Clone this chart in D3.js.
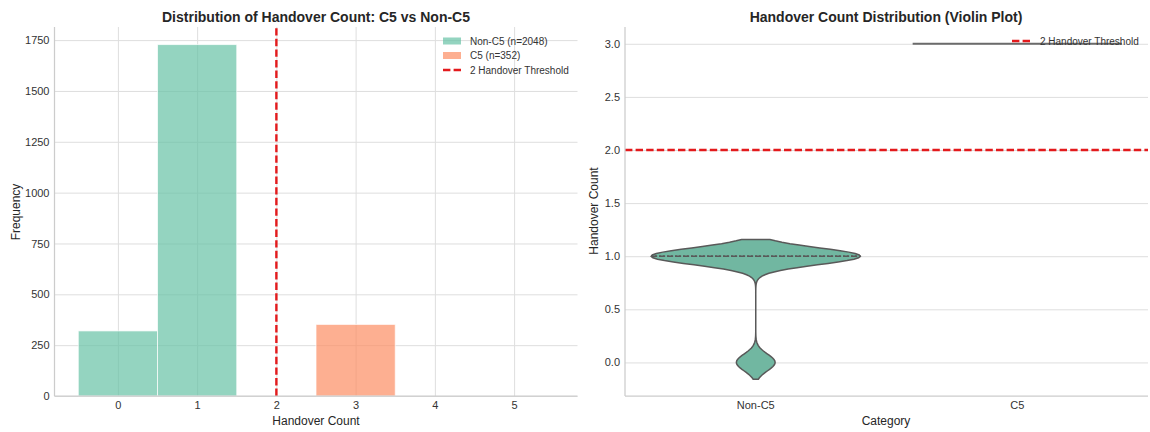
<!DOCTYPE html>
<html>
<head>
    <title>Handover Count: C5 vs Non-C5</title>
    <script src="https://d3js.org/d3.v7.min.js"></script>
    <style>
        body { margin: 0; background: #fff; }
        svg { font-family: "Liberation Sans", Arial, sans-serif; }
        .tick text { fill: #333; font-size: 11px; }
        .grid line { stroke: #dedede; stroke-width: 1; }
        .grid path { display: none; }
        .spine { stroke: #cccccc; stroke-width: 1.25; }
        .title { font-size: 14px; font-weight: bold; fill: #262626; }
        .label { font-size: 12px; fill: #262626; }
        .legend text { font-size: 10px; fill: #333; }
    </style>
</head>
<body>
    <svg id="chart" width="1150" height="432"></svg>

    <script>
        // data
        const handoverBins = [0, 1, 2, 3, 4, 5];
        const nonC5Counts = [320, 1728, 0, 0, 0, 0];
        const c5Counts = [0, 0, 0, 352, 0, 0];
        const categories = ['Non-C5', 'C5'];
        const threshold = 2;
        const freqTicks = [0, 250, 500, 750, 1000, 1250, 1500, 1750];
        const countTicks = [0, 0.5, 1, 1.5, 2, 2.5, 3];

        const nonC5Color = '#66c2a5';
        const c5Color = '#fc8d62';
        const violinFill = '#71b7a1';
        const redLine = '#e31a1c';

        const svg = d3.select('#chart');
        const plotTop = 27, plotBottom = 396;

        // ---------- left panel: histogram ----------
        const left = svg.append('g');
        const xHist = d3.scaleLinear().domain([-0.8, 5.8]).range([54.5, 577.5]);
        const yHist = d3.scaleLinear().domain([0, 1728 * 1.05]).range([plotBottom, plotTop]);

        left.append('g').attr('class', 'grid')
            .attr('transform', `translate(0,${plotBottom})`)
            .call(d3.axisBottom(xHist).tickValues(handoverBins).tickSize(-(plotBottom - plotTop)).tickFormat(''));
        left.append('g').attr('class', 'grid')
            .attr('transform', `translate(54.5,0)`)
            .call(d3.axisLeft(yHist).tickValues(freqTicks).tickSize(-(577.5 - 54.5)).tickFormat(''));

        // bars
        function drawBars(counts, color) {
            left.selectAll(null)
                .data(handoverBins.map((b, i) => ({ b: b, c: counts[i] })).filter(d => d.c > 0))
                .enter()
                .append('rect')
                .attr('x', d => xHist(d.b - 0.5))
                .attr('width', d => xHist(d.b + 0.5) - xHist(d.b - 0.5))
                .attr('y', d => yHist(d.c))
                .attr('height', d => yHist(0) - yHist(d.c))
                .attr('fill', color)
                .attr('fill-opacity', 0.7)
                .attr('stroke', '#ffffff')
                .attr('stroke-opacity', 0.7)
                .attr('stroke-width', 1);
        }
        drawBars(nonC5Counts, nonC5Color);
        drawBars(c5Counts, c5Color);

        // threshold
        left.append('line')
            .attr('x1', xHist(threshold)).attr('x2', xHist(threshold))
            .attr('y1', plotBottom).attr('y2', plotTop)
            .attr('stroke', redLine).attr('stroke-width', 2.4)
            .attr('stroke-dasharray', '7.4,3.2');

        // spines
        left.append('line').attr('class', 'spine')
            .attr('x1', 54.5).attr('x2', 54.5).attr('y1', plotTop).attr('y2', plotBottom);
        left.append('line').attr('class', 'spine')
            .attr('x1', 54.5).attr('x2', 577.5).attr('y1', plotBottom).attr('y2', plotBottom);

        // tick labels
        left.append('g')
            .attr('transform', `translate(0,${plotBottom})`)
            .call(d3.axisBottom(xHist).tickValues(handoverBins).tickSize(0).tickPadding(5).tickFormat(d3.format('d')))
            .call(g => g.select('.domain').remove());
        left.append('g')
            .attr('transform', `translate(54.5,0)`)
            .call(d3.axisLeft(yHist).tickValues(freqTicks).tickSize(0).tickPadding(5).tickFormat(d3.format('d')))
            .call(g => g.select('.domain').remove());

        left.append('text').attr('class', 'title')
            .attr('x', 316).attr('y', 22).attr('text-anchor', 'middle')
            .text('Distribution of Handover Count: C5 vs Non-C5');
        left.append('text').attr('class', 'label')
            .attr('x', 316).attr('y', 425).attr('text-anchor', 'middle')
            .text('Handover Count');
        left.append('text').attr('class', 'label')
            .attr('transform', 'translate(20,212) rotate(-90)')
            .attr('text-anchor', 'middle')
            .text('Frequency');

        // legend
        const leg = left.append('g').attr('class', 'legend');
        const legItems = [
            { label: 'Non-C5 (n=2048)', color: nonC5Color, type: 'patch' },
            { label: 'C5 (n=352)', color: c5Color, type: 'patch' },
            { label: '2 Handover Threshold', color: redLine, type: 'line' }
        ];
        legItems.forEach((d, i) => {
            const yy = 41 + i * 14.5;
            if (d.type === 'patch') {
                leg.append('rect').attr('x', 443).attr('y', yy - 3.5).attr('width', 18).attr('height', 7)
                    .attr('fill', d.color).attr('fill-opacity', 0.7);
            } else {
                leg.append('line').attr('x1', 443).attr('x2', 461).attr('y1', yy).attr('y2', yy)
                    .attr('stroke', d.color).attr('stroke-width', 2.4).attr('stroke-dasharray', '7.4,3.2');
            }
            leg.append('text').attr('x', 470).attr('y', yy + 3.5).text(d.label);
        });

        // ---------- right panel: violin ----------
        const right = svg.append('g');
        const xCat = d3.scaleBand().domain(categories).range([625, 1148]);
        const yViol = d3.scaleLinear().domain([-0.316, 3.158]).range([plotBottom, plotTop]);

        right.append('g').attr('class', 'grid')
            .attr('transform', `translate(625,0)`)
            .call(d3.axisLeft(yViol).tickValues(countTicks).tickSize(-(1148 - 625)).tickFormat(''));

        // expand counts to raw values and estimate density (gaussian kde, scott bandwidth, cut=2)
        function expand(counts) {
            const v = [];
            counts.forEach((c, i) => { for (let k = 0; k < c; k++) v.push(handoverBins[i]); });
            return v;
        }
        function kde(values) {
            const n = values.length;
            const sd = d3.deviation(values);
            const bw = sd * Math.pow(n, -0.2);
            const lo = d3.min(values) - 2 * bw, hi = d3.max(values) + 2 * bw;
            const pts = [];
            for (let i = 0; i < 100; i++) {
                const y = lo + (hi - lo) * i / 99;
                let s = 0;
                handoverBins.forEach((b, j) => {
                    const c = values.filter(v => v === b).length;
                    if (c) s += c * Math.exp(-0.5 * Math.pow((y - b) / bw, 2));
                });
                pts.push({ y: y, d: s / (n * bw * Math.sqrt(2 * Math.PI)) });
            }
            return pts;
        }

        const nonC5Values = expand(nonC5Counts);
        const c5Values = expand(c5Counts);
        const dens = kde(nonC5Values);
        const maxD = d3.max(dens, d => d.d);
        const halfW = xCat.step() * 0.4;
        const cx0 = xCat('Non-C5') + xCat.bandwidth() / 2;
        const wScale = d3.scaleLinear().domain([0, maxD]).range([0, halfW]);

        const area = d3.area()
            .y(d => yViol(d.y))
            .x0(d => cx0 - wScale(d.d))
            .x1(d => cx0 + wScale(d.d));
        right.append('path')
            .datum(dens)
            .attr('d', area)
            .attr('fill', violinFill)
            .attr('stroke', '#595959')
            .attr('stroke-width', 1.5);

        // quartile lines (all at the same value)
        const q = [0.25, 0.5, 0.75].map(p => d3.quantile(nonC5Values, p));
        q.forEach((v, i) => {
            const dv = d3.max(dens, d => (Math.abs(d.y - v) < 0.02 ? d.d : 0)) || maxD;
            right.append('line')
                .attr('x1', cx0 - wScale(dv)).attr('x2', cx0 + wScale(dv))
                .attr('y1', yViol(v)).attr('y2', yViol(v))
                .attr('stroke', '#595959').attr('stroke-width', 1.5)
                .attr('stroke-dasharray', i === 1 ? '6,2' : '1.5,2.5');
        });

        // C5 has a single value: drawn as a line
        const cx1 = xCat('C5') + xCat.bandwidth() / 2;
        right.append('line')
            .attr('x1', cx1 - halfW).attr('x2', cx1 + halfW)
            .attr('y1', yViol(c5Values[0])).attr('y2', yViol(c5Values[0]))
            .attr('stroke', '#6b6b6b').attr('stroke-width', 2);

        right.append('line')
            .attr('x1', 625).attr('x2', 1148)
            .attr('y1', yViol(threshold)).attr('y2', yViol(threshold))
            .attr('stroke', redLine).attr('stroke-width', 2.4)
            .attr('stroke-dasharray', '7.4,3.2');

        right.append('line').attr('class', 'spine')
            .attr('x1', 625).attr('x2', 625).attr('y1', plotTop).attr('y2', plotBottom);
        right.append('line').attr('class', 'spine')
            .attr('x1', 625).attr('x2', 1148).attr('y1', plotBottom).attr('y2', plotBottom);

        right.append('g')
            .attr('transform', `translate(0,${plotBottom})`)
            .call(d3.axisBottom(xCat).tickSize(0).tickPadding(5))
            .call(g => g.select('.domain').remove());
        right.append('g')
            .attr('transform', `translate(625,0)`)
            .call(d3.axisLeft(yViol).tickValues(countTicks).tickSize(0).tickPadding(5).tickFormat(d3.format('.1f')))
            .call(g => g.select('.domain').remove());

        right.append('text').attr('class', 'title')
            .attr('x', 886).attr('y', 22).attr('text-anchor', 'middle')
            .text('Handover Count Distribution (Violin Plot)');
        right.append('text').attr('class', 'label')
            .attr('x', 886).attr('y', 425).attr('text-anchor', 'middle')
            .text('Category');
        right.append('text').attr('class', 'label')
            .attr('transform', 'translate(598,211) rotate(-90)')
            .attr('text-anchor', 'middle')
            .text('Handover Count');

        const leg2 = right.append('g').attr('class', 'legend');
        leg2.append('line').attr('x1', 1012).attr('x2', 1030).attr('y1', 41).attr('y2', 41)
            .attr('stroke', redLine).attr('stroke-width', 2.4).attr('stroke-dasharray', '7.4,3.2');
        leg2.append('text').attr('x', 1040).attr('y', 44.5).text('2 Handover Threshold');
    </script>
</body>
</html>
